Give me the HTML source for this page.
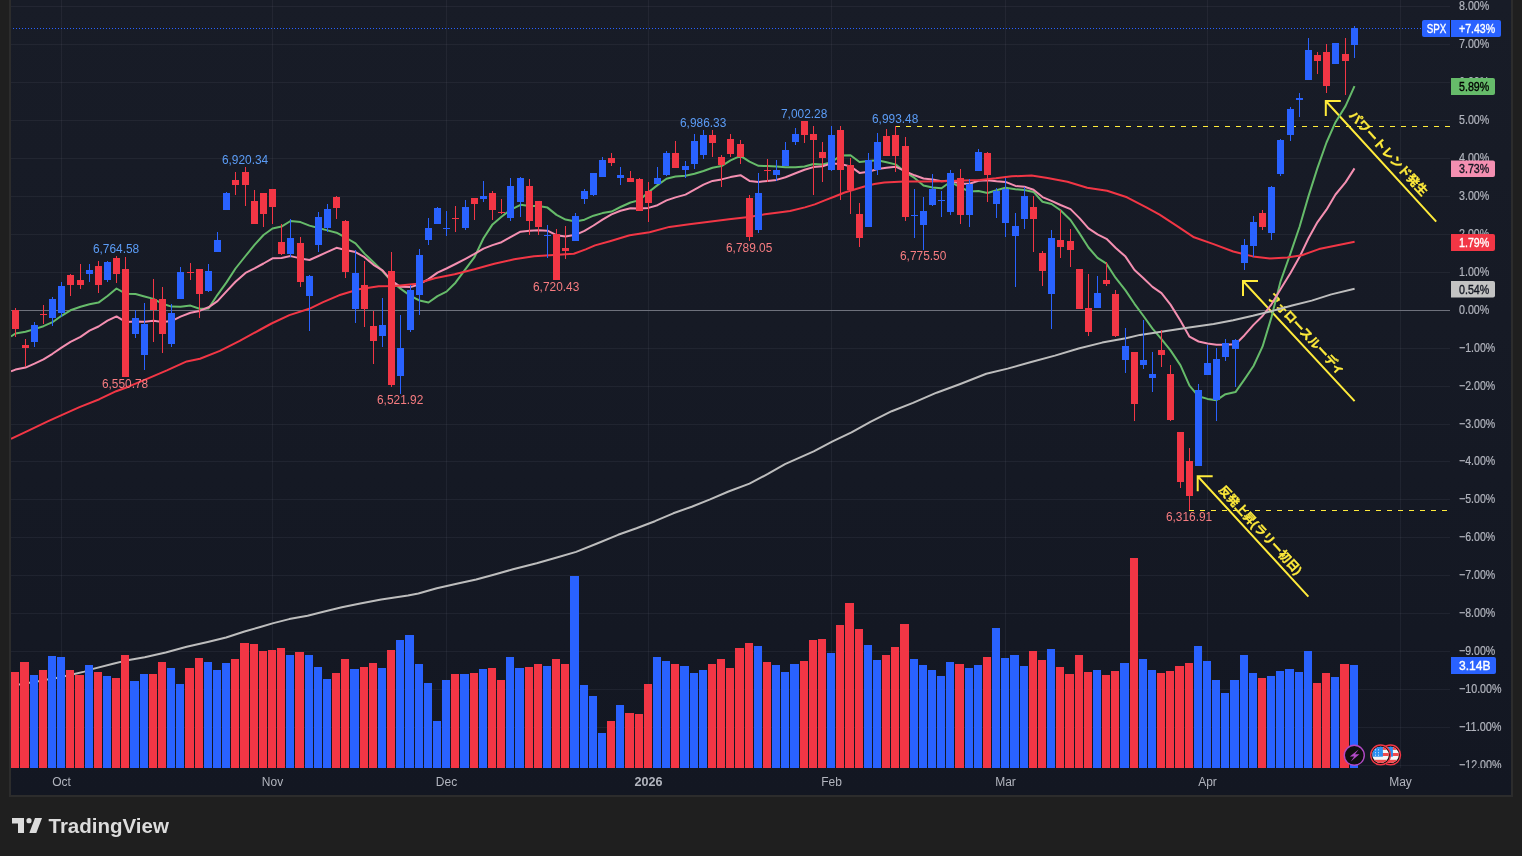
<!DOCTYPE html>
<html><head><meta charset="utf-8"><title>SPX chart</title>
<style>html,body{margin:0;padding:0;background:#1f1f1f;width:1522px;height:856px;overflow:hidden;position:relative}</style>
</head><body>
<svg width="1522" height="856" viewBox="0 0 1522 856" style="position:absolute;left:0;top:0">
<defs><linearGradient id="bg" x1="0" y1="0" x2="0" y2="1"><stop offset="0" stop-color="#181c27"/><stop offset="1" stop-color="#131722"/></linearGradient>
<clipPath id="plot"><rect x="11" y="0" width="1439" height="768"/></clipPath>
<clipPath id="pax"><rect x="1450" y="0" width="61" height="768"/></clipPath>
</defs>
<rect x="0" y="0" width="1522" height="856" fill="#1f1f1f"/>
<rect x="9" y="0" width="1504" height="797" fill="#2c2c2c"/>
<rect x="11" y="0" width="1500" height="795" fill="url(#bg)"/>
<path d="M11 6.5H1450M11 44.5H1450M11 82.5H1450M11 120.5H1450M11 158.5H1450M11 196.5H1450M11 234.5H1450M11 272.5H1450M11 348.5H1450M11 386.5H1450M11 424.5H1450M11 461.5H1450M11 499.5H1450M11 537.5H1450M11 575.5H1450M11 613.5H1450M11 651.5H1450M11 689.5H1450M11 727.5H1450M11 765.5H1450M61.5 0V768M272.5 0V768M446.5 0V768M648.5 0V768M831.5 0V768M1005.5 0V768M1207.5 0V768M1400.5 0V768" stroke="rgba(128,126,150,0.11)" stroke-width="1" fill="none"/>
<path d="M11 310.5H1450" stroke="#6e717c" stroke-width="1"/>
<g clip-path="url(#plot)">
<path d="M13 28.5H1422" stroke="#2962ff" stroke-width="1" stroke-dasharray="1 2"/>
<path d="M895 126.5H1450" stroke="#ffeb3b" stroke-width="1" stroke-dasharray="5 6"/>
<path d="M1189 510.5H1450" stroke="#ffeb3b" stroke-width="1" stroke-dasharray="5 6"/>
<path d="M1197.7 476.2L1308.4 596.6M1212.7 476.2L1197.7 476.2L1197.7 491.2" stroke="#ffeb3b" stroke-width="2" fill="none" stroke-linecap="butt" stroke-linejoin="miter"/>
<text transform="translate(1197.7 476.2) rotate(47.40)" x="24.0" y="-5.5" fill="#ffeb3b" stroke="#ffeb3b" stroke-width="0.3" font-size="12.0" font-weight="bold" font-family="Liberation Sans, Noto Sans CJK JP, sans-serif">反発上昇(ラリー初日)</text>
<path d="M1243.0 281.0L1354.6 401.1M1258.0 281.0L1243.0 281.0L1243.0 296.0" stroke="#ffeb3b" stroke-width="2" fill="none" stroke-linecap="butt" stroke-linejoin="miter"/>
<text transform="translate(1243.0 281.0) rotate(47.10)" x="28.5" y="-6.0" fill="#ffeb3b" stroke="#ffeb3b" stroke-width="0.3" font-size="12.0" font-weight="bold" font-family="Liberation Sans, Noto Sans CJK JP, sans-serif">フォロースルーディ</text>
<path d="M1325.8 101.0L1436.2 221.6M1340.8 101.0L1325.8 101.0L1325.8 116.0" stroke="#ffeb3b" stroke-width="2" fill="none" stroke-linecap="butt" stroke-linejoin="miter"/>
<text transform="translate(1325.8 101.0) rotate(47.53)" x="26.0" y="-6.5" fill="#ffeb3b" stroke="#ffeb3b" stroke-width="0.3" font-size="12.2" font-weight="bold" font-family="Liberation Sans, Noto Sans CJK JP, sans-serif">パワートレンド発生</text>
<path d="M11.0 336.5 L15.5 333.5 L25.5 331.8 L34.5 329.1 L43.5 326.2 L52.5 322.2 L61.5 315.8 L70.5 310.3 L80.5 306.8 L89.5 304.2 L98.5 302.6 L107.5 296.0 L116.5 288.5 L125.5 293.7 L135.5 294.0 L144.5 296.5 L153.5 298.9 L162.5 303.8 L171.5 306.6 L180.5 306.8 L190.5 305.6 L199.5 308.8 L208.5 308.5 L217.5 294.8 L226.5 282.4 L235.5 268.5 L245.5 256.0 L254.5 244.9 L263.5 235.0 L272.5 228.5 L281.5 226.6 L290.5 221.0 L300.5 222.1 L309.5 225.6 L318.5 228.0 L327.5 230.4 L336.5 232.7 L345.5 237.5 L355.5 243.4 L364.5 253.6 L373.5 262.3 L382.5 271.0 L391.5 281.4 L400.5 288.6 L410.5 295.9 L419.5 300.5 L428.5 302.5 L437.5 296.1 L446.5 291.6 L455.5 282.7 L465.5 269.2 L474.5 257.1 L483.5 238.2 L492.5 224.4 L501.5 216.8 L510.5 209.9 L520.5 204.8 L529.5 206.1 L538.5 206.0 L547.5 207.6 L556.5 214.9 L565.5 219.6 L575.5 221.6 L584.5 219.7 L593.5 215.7 L602.5 213.1 L611.5 211.6 L620.5 207.0 L630.5 202.5 L639.5 200.1 L648.5 192.3 L657.5 185.1 L666.5 178.8 L675.5 176.5 L685.5 175.7 L694.5 173.8 L703.5 171.0 L712.5 167.8 L721.5 166.1 L730.5 160.4 L740.5 155.8 L749.5 161.7 L758.5 165.8 L767.5 166.0 L776.5 166.4 L785.5 167.3 L795.5 167.3 L804.5 166.5 L813.5 164.0 L822.5 164.5 L831.5 162.3 L840.5 155.5 L850.5 155.2 L859.5 162.0 L868.5 161.0 L877.5 160.2 L886.5 162.3 L895.5 164.4 L905.5 172.2 L914.5 177.9 L923.5 185.4 L932.5 187.4 L941.5 188.3 L950.5 181.8 L960.5 187.3 L969.5 191.5 L978.5 191.1 L987.5 193.0 L996.5 190.3 L1005.5 187.7 L1015.5 189.2 L1024.5 189.9 L1033.5 191.9 L1042.5 201.7 L1051.5 204.0 L1060.5 210.2 L1070.5 220.0 L1079.5 233.4 L1088.5 247.5 L1097.5 257.9 L1106.5 263.7 L1115.5 277.7 L1125.5 290.4 L1134.5 303.8 L1143.5 316.0 L1152.5 328.7 L1161.5 339.2 L1170.5 350.4 L1180.5 365.4 L1189.5 385.7 L1198.5 396.3 L1207.5 398.9 L1216.5 400.2 L1225.5 394.2 L1235.5 392.1 L1244.5 379.3 L1253.5 366.0 L1262.5 346.7 L1271.5 317.1 L1280.5 281.5 L1290.5 253.4 L1299.5 227.0 L1308.5 196.1 L1317.5 167.9 L1326.5 142.5 L1335.5 122.2 L1345.5 106.1 L1354.5 86.2" stroke="#66bb6a" stroke-width="2" fill="none" stroke-linejoin="round" stroke-linecap="butt"/>
<path d="M11.0 371.4 L15.5 369.6 L25.5 367.6 L34.5 363.7 L43.5 359.3 L52.5 353.8 L61.5 347.6 L70.5 341.9 L80.5 336.8 L89.5 330.7 L98.5 326.5 L107.5 320.7 L116.5 316.4 L125.5 321.9 L135.5 321.5 L144.5 321.7 L153.5 320.7 L162.5 321.9 L171.5 321.1 L180.5 316.6 L190.5 312.7 L199.5 310.9 L208.5 307.3 L217.5 301.2 L226.5 291.3 L235.5 281.7 L245.5 272.9 L254.5 268.4 L263.5 263.5 L272.5 258.3 L281.5 257.9 L290.5 256.1 L300.5 258.4 L309.5 260.0 L318.5 256.0 L327.5 251.8 L336.5 247.8 L345.5 250.0 L355.5 252.1 L364.5 257.2 L373.5 264.8 L382.5 270.3 L391.5 280.7 L400.5 286.8 L410.5 287.1 L419.5 284.2 L428.5 279.1 L437.5 272.6 L446.5 268.5 L455.5 264.0 L465.5 258.8 L474.5 253.9 L483.5 248.6 L492.5 245.1 L501.5 242.2 L510.5 237.1 L520.5 231.7 L529.5 230.7 L538.5 230.3 L547.5 230.7 L556.5 235.2 L565.5 236.6 L575.5 234.8 L584.5 230.8 L593.5 225.5 L602.5 219.6 L611.5 214.4 L620.5 210.8 L630.5 208.2 L639.5 208.4 L648.5 207.9 L657.5 205.2 L666.5 200.4 L675.5 197.4 L685.5 194.6 L694.5 189.7 L703.5 184.7 L712.5 180.9 L721.5 179.4 L730.5 177.1 L740.5 175.2 L749.5 180.9 L758.5 182.0 L767.5 180.9 L776.5 179.9 L785.5 177.2 L795.5 173.3 L804.5 169.8 L813.5 167.1 L822.5 166.3 L831.5 163.4 L840.5 164.0 L850.5 166.4 L859.5 172.9 L868.5 171.7 L877.5 169.0 L886.5 167.8 L895.5 166.7 L905.5 171.3 L914.5 175.3 L923.5 178.5 L932.5 179.5 L941.5 181.3 L950.5 180.5 L960.5 183.7 L969.5 183.7 L978.5 180.8 L987.5 180.2 L996.5 181.2 L1005.5 181.9 L1015.5 185.9 L1024.5 186.8 L1033.5 189.7 L1042.5 197.1 L1051.5 200.8 L1060.5 205.0 L1070.5 209.1 L1079.5 218.1 L1088.5 228.4 L1097.5 234.3 L1106.5 238.8 L1115.5 247.7 L1125.5 256.6 L1134.5 270.0 L1143.5 278.2 L1152.5 286.9 L1161.5 293.1 L1170.5 304.6 L1180.5 320.8 L1189.5 336.7 L1198.5 341.5 L1207.5 343.4 L1216.5 344.8 L1225.5 344.7 L1235.5 344.2 L1244.5 335.2 L1253.5 324.9 L1262.5 316.0 L1271.5 304.3 L1280.5 289.3 L1290.5 272.9 L1299.5 257.1 L1308.5 238.3 L1317.5 222.1 L1326.5 209.7 L1335.5 194.5 L1345.5 182.4 L1354.5 168.4" stroke="#f48fb1" stroke-width="2" fill="none" stroke-linejoin="round" stroke-linecap="butt"/>
<path d="M11.0 438.9 L27.9 430.9 L47.7 421.4 L61.6 415.1 L79.5 407.1 L99.4 399.2 L116.2 391.2 L127.2 387.2 L147.0 378.9 L166.9 370.4 L186.7 361.4 L200.0 358.8 L219.9 350.9 L239.7 340.9 L259.6 330.0 L271.5 323.5 L289.4 315.1 L309.2 308.8 L323.1 302.2 L339.0 295.3 L358.9 289.3 L378.7 286.3 L395.0 286.1 L414.9 284.1 L434.7 278.2 L454.6 274.2 L474.4 269.2 L494.3 263.7 L514.2 259.3 L534.0 256.3 L553.9 254.9 L573.8 253.7 L585.7 249.4 L595.0 245.4 L609.9 241.2 L629.7 235.2 L649.6 232.2 L669.4 226.9 L689.3 224.3 L709.2 221.7 L729.0 219.3 L748.9 216.9 L764.8 214.3 L778.7 212.4 L790.0 211.0 L804.9 207.4 L814.8 204.4 L824.7 200.4 L834.7 196.5 L844.6 192.5 L854.5 189.5 L864.4 186.5 L874.4 184.0 L884.3 182.6 L894.2 182.0 L904.2 181.6 L924.0 181.6 L943.9 181.2 L963.7 180.6 L980.0 179.9 L995.9 178.3 L1011.8 176.3 L1031.6 175.5 L1047.5 177.9 L1067.4 181.8 L1087.2 187.8 L1107.1 190.8 L1127.0 197.3 L1146.8 207.7 L1159.6 214.7 L1176.8 225.8 L1194.0 237.3 L1213.6 244.1 L1233.2 251.5 L1252.8 256.4 L1270.0 258.4 L1287.2 257.6 L1301.9 255.2 L1319.0 249.1 L1336.2 245.4 L1354.6 241.7" stroke="#f23645" stroke-width="2" fill="none" stroke-linejoin="round" stroke-linecap="butt"/>
<path d="M11.0 686.0 L19.2 684.5 L29.4 682.8 L38.5 681.2 L47.4 679.6 L56.4 677.9 L65.5 675.9 L74.3 674.0 L84.4 671.6 L92.1 669.1 L113.1 663.8 L128.9 659.9 L144.7 657.2 L165.7 652.5 L186.7 646.7 L207.7 642.0 L226.1 637.5 L244.5 631.5 L260.3 627.0 L273.4 623.1 L289.2 619.1 L307.6 615.7 L323.4 611.8 L341.8 607.3 L360.2 603.4 L381.2 599.4 L408.0 595.5 L418.4 593.5 L436.8 588.2 L457.8 583.5 L476.2 579.5 L494.6 574.5 L513.0 569.3 L536.7 563.2 L557.7 557.2 L576.1 551.9 L597.1 543.5 L618.1 534.8 L636.5 528.3 L654.9 521.2 L673.3 513.3 L691.7 506.7 L710.1 499.4 L728.5 491.5 L749.5 483.6 L767.9 473.9 L785.0 464.2 L813.7 451.4 L832.6 441.4 L851.5 432.4 L870.4 421.8 L891.7 411.2 L913.0 402.9 L936.6 392.7 L960.3 384.0 L986.3 373.8 L1007.6 368.6 L1031.2 362.0 L1054.9 355.6 L1078.6 348.5 L1102.2 342.6 L1125.9 338.3 L1140.0 334.9 L1164.5 331.2 L1189.1 327.5 L1213.6 323.9 L1233.2 320.2 L1252.8 315.8 L1272.5 310.9 L1292.1 305.5 L1311.7 300.6 L1331.3 294.4 L1354.6 288.8" stroke="#bdbdbd" stroke-width="2" fill="none" stroke-linejoin="round" stroke-linecap="butt"/>
<path d="M11 672H19V768H11ZM20 662H29V768H20ZM39 670H47V768H39ZM66 670H74V768H66ZM75 675H84V768H75ZM94 672H102V768H94ZM112 678H120V768H112ZM121 655H129V768H121ZM149 674H157V768H149ZM158 662H166V768H158ZM185 668H194V768H185ZM195 658H203V768H195ZM231 659H239V768H231ZM240 643H249V768H240ZM250 644H258V768H250ZM259 651H267V768H259ZM268 650H276V768H268ZM277 648H285V768H277ZM295 652H304V768H295ZM332 673H340V768H332ZM341 659H349V768H341ZM360 667H368V768H360ZM369 663H377V768H369ZM387 650H395V768H387ZM451 674H459V768H451ZM470 673H478V768H470ZM488 668H496V768H488ZM497 680H505V768H497ZM525 667H533V768H525ZM534 664H542V768H534ZM552 659H560V768H552ZM561 664H569V768H561ZM607 721H615V768H607ZM625 713H634V768H625ZM635 714H643V768H635ZM644 684H652V768H644ZM671 664H679V768H671ZM708 664H716V768H708ZM717 659H725V768H717ZM726 668H734V768H726ZM735 648H744V768H735ZM745 643H753V768H745ZM763 662H771V768H763ZM800 661H808V768H800ZM809 640H817V768H809ZM818 639H826V768H818ZM836 625H844V768H836ZM845 603H854V768H845ZM855 629H863V768H855ZM882 655H890V768H882ZM891 647H899V768H891ZM900 624H909V768H900ZM955 664H964V768H955ZM983 657H991V768H983ZM1029 651H1037V768H1029ZM1038 660H1046V768H1038ZM1056 667H1064V768H1056ZM1065 674H1074V768H1065ZM1075 655H1083V768H1075ZM1084 672H1092V768H1084ZM1102 675H1110V768H1102ZM1111 671H1119V768H1111ZM1130 558H1138V768H1130ZM1157 673H1165V768H1157ZM1166 671H1174V768H1166ZM1175 666H1184V768H1175ZM1185 663H1193V768H1185ZM1258 678H1266V768H1258ZM1313 683H1321V768H1313ZM1322 673H1330V768H1322ZM1340 664H1349V768H1340Z" fill="#f23645"/>
<path d="M30 675H38V768H30ZM48 656H56V768H48ZM57 657H65V768H57ZM85 665H93V768H85ZM103 676H111V768H103ZM130 681H139V768H130ZM140 674H148V768H140ZM167 668H175V768H167ZM176 684H184V768H176ZM204 662H212V768H204ZM213 670H221V768H213ZM222 663H230V768H222ZM286 655H294V768H286ZM305 655H313V768H305ZM314 667H322V768H314ZM323 679H331V768H323ZM350 669H359V768H350ZM378 668H386V768H378ZM396 640H404V768H396ZM405 635H414V768H405ZM415 664H423V768H415ZM424 683H432V768H424ZM433 721H441V768H433ZM442 680H450V768H442ZM460 674H469V768H460ZM479 669H487V768H479ZM506 657H514V768H506ZM515 668H524V768H515ZM543 666H551V768H543ZM570 576H579V768H570ZM580 685H588V768H580ZM589 696H597V768H589ZM598 733H606V768H598ZM616 705H624V768H616ZM653 657H661V768H653ZM662 661H670V768H662ZM680 666H689V768H680ZM690 673H698V768H690ZM699 670H707V768H699ZM754 646H762V768H754ZM772 665H780V768H772ZM781 672H789V768H781ZM790 664H799V768H790ZM827 653H835V768H827ZM864 645H872V768H864ZM873 660H881V768H873ZM910 659H918V768H910ZM919 665H927V768H919ZM928 670H936V768H928ZM937 676H945V768H937ZM946 662H954V768H946ZM965 668H973V768H965ZM974 665H982V768H974ZM992 628H1000V768H992ZM1001 658H1009V768H1001ZM1010 655H1019V768H1010ZM1020 666H1028V768H1020ZM1047 649H1055V768H1047ZM1093 670H1101V768H1093ZM1120 663H1129V768H1120ZM1139 659H1147V768H1139ZM1148 670H1156V768H1148ZM1194 646H1202V768H1194ZM1203 661H1211V768H1203ZM1212 680H1220V768H1212ZM1221 693H1229V768H1221ZM1230 680H1239V768H1230ZM1240 655H1248V768H1240ZM1249 673H1257V768H1249ZM1267 676H1275V768H1267ZM1276 671H1284V768H1276ZM1285 669H1294V768H1285ZM1295 672H1303V768H1295ZM1304 651H1312V768H1304ZM1331 677H1339V768H1331ZM1350 665H1358V768H1350Z" fill="#2962ff"/>
<path d="M12 310H19V329H12ZM15 308H16V310H15ZM15 329H16V337H15ZM22 345H29V348H22ZM25 339H26V345H25ZM25 348H26V367H25ZM40 314H47V315H40ZM43 305H44V314H43ZM43 315H44V324H43ZM67 275H74V285H67ZM70 274H71V275H70ZM70 285H71V296H70ZM77 280H84V285H77ZM80 264H81V280H80ZM80 285H81V289H80ZM95 266H102V285H95ZM98 261H99V266H98ZM98 285H99V293H98ZM113 258H120V274H113ZM116 256H117V258H116ZM116 274H117V283H116ZM122 269H129V377H122ZM125 257H126V269H125ZM150 299H157V310H150ZM153 279H154V299H153ZM153 310H154V342H153ZM159 299H166V334H159ZM162 287H163V299H162ZM162 334H163V353H162ZM187 272H194V273H187ZM190 263H191V272H190ZM190 273H191V280H190ZM196 269H203V294H196ZM199 294H200V318H199ZM232 180H239V185H232ZM235 172H236V180H235ZM235 185H236V195H235ZM242 172H249V185H242ZM245 167H246V172H245ZM245 185H246V206H245ZM251 201H258V224H251ZM254 190H255V201H254ZM260 193H267V214H260ZM263 214H264V227H263ZM269 189H276V207H269ZM272 207H273V224H272ZM278 242H285V254H278ZM281 224H282V242H281ZM281 254H282V255H281ZM297 243H304V282H297ZM300 237H301V243H300ZM300 282H301V287H300ZM333 197H340V208H333ZM336 196H337V197H336ZM336 208H337V219H336ZM342 221H349V272H342ZM345 220H346V221H345ZM345 272H346V278H345ZM361 285H368V309H361ZM364 261H365V285H364ZM364 309H365V327H364ZM370 326H377V341H370ZM373 311H374V326H373ZM373 341H374V364H373ZM388 271H395V385H388ZM391 252H392V271H391ZM391 385H392V387H391ZM452 218H459V219H452ZM455 206H456V218H455ZM455 219H456V232H455ZM471 198H478V204H471ZM474 204H475V220H474ZM489 193H496V210H489ZM492 191H493V193H492ZM492 210H493V220H492ZM498 212H505V213H498ZM501 199H502V212H501ZM501 213H502V214H501ZM526 186H533V221H526ZM529 179H530V186H529ZM529 221H530V235H529ZM535 201H542V227H535ZM538 227H539V235H538ZM553 234H560V280H553ZM556 229H557V234H556ZM562 248H569V251H562ZM565 226H566V248H565ZM565 251H566V259H565ZM608 158H615V163H608ZM611 153H612V158H611ZM611 163H612V166H611ZM627 178H634V182H627ZM630 171H631V178H630ZM636 179H643V211H636ZM639 178H640V179H639ZM645 191H652V203H645ZM648 182H649V191H648ZM648 203H649V222H648ZM672 153H679V168H672ZM675 141H676V153H675ZM709 135H716V143H709ZM712 130H713V135H712ZM712 143H713V157H712ZM718 157H725V165H718ZM721 155H722V157H721ZM721 165H722V187H721ZM727 139H734V154H727ZM730 134H731V139H730ZM730 154H731V157H730ZM737 144H744V157H737ZM740 140H741V144H740ZM740 157H741V164H740ZM746 198H753V237H746ZM749 195H750V198H749ZM749 237H750V241H749ZM764 170H771V171H764ZM767 159H768V170H767ZM767 171H768V182H767ZM801 121H808V135H801ZM804 135H805V143H804ZM810 134H817V140H810ZM813 126H814V134H813ZM813 140H814V195H813ZM819 152H826V158H819ZM822 142H823V152H822ZM822 158H823V182H822ZM837 130H844V170H837ZM840 126H841V130H840ZM840 170H841V200H840ZM847 165H854V190H847ZM850 158H851V165H850ZM850 190H851V214H850ZM856 214H863V238H856ZM859 203H860V214H859ZM859 238H860V247H859ZM883 136H890V156H883ZM886 129H887V136H886ZM892 135H899V156H892ZM895 126H896V135H895ZM895 156H896V172H895ZM902 146H909V217H902ZM905 137H906V146H905ZM905 217H906V221H905ZM957 178H964V215H957ZM960 169H961V178H960ZM960 215H961V224H960ZM984 153H991V175H984ZM987 152H988V153H987ZM987 175H988V202H987ZM1030 207H1037V219H1030ZM1033 196H1034V207H1033ZM1033 219H1034V252H1033ZM1039 253H1046V271H1039ZM1042 251H1043V253H1042ZM1042 271H1043V286H1042ZM1057 240H1064V247H1057ZM1060 210H1061V240H1060ZM1060 247H1061V258H1060ZM1067 241H1074V250H1067ZM1070 229H1071V241H1070ZM1070 250H1071V267H1070ZM1076 269H1083V309H1076ZM1085 308H1092V332H1085ZM1088 274H1089V308H1088ZM1088 332H1089V336H1088ZM1103 280H1110V284H1103ZM1106 262H1107V280H1106ZM1106 284H1107V286H1106ZM1112 294H1119V336H1112ZM1115 290H1116V294H1115ZM1115 336H1116V337H1115ZM1131 352H1138V404H1131ZM1134 404H1135V421H1134ZM1158 350H1165V355H1158ZM1161 330H1162V350H1161ZM1161 355H1162V367H1161ZM1167 374H1174V420H1167ZM1170 365H1171V374H1170ZM1170 420H1171V421H1170ZM1177 432H1184V482H1177ZM1180 482H1181V488H1180ZM1186 461H1193V496H1186ZM1189 448H1190V461H1189ZM1189 496H1190V510H1189ZM1259 213H1266V227H1259ZM1262 210H1263V213H1262ZM1262 227H1263V230H1262ZM1314 55H1321V61H1314ZM1317 52H1318V55H1317ZM1317 61H1318V74H1317ZM1323 52H1330V86H1323ZM1326 44H1327V52H1326ZM1326 86H1327V93H1326ZM1342 54H1349V61H1342ZM1345 38H1346V54H1345ZM1345 61H1346V95H1345Z" fill="#f23645"/>
<path d="M31 325H38V342H31ZM34 322H35V325H34ZM34 342H35V347H34ZM49 299H56V318H49ZM52 297H53V299H52ZM52 318H53V326H52ZM58 286H65V313H58ZM61 282H62V286H61ZM61 313H62V317H61ZM86 270H93V274H86ZM89 264H90V270H89ZM89 274H90V282H89ZM104 262H111V280H104ZM107 261H108V262H107ZM107 280H108V282H107ZM132 318H139V334H132ZM135 310H136V318H135ZM135 334H136V338H135ZM141 324H148V355H141ZM144 303H145V324H144ZM144 355H145V370H144ZM168 313H175V344H168ZM171 304H172V313H171ZM171 344H172V347H171ZM177 272H184V299H177ZM180 267H181V272H180ZM205 271H212V291H205ZM208 264H209V271H208ZM208 291H209V292H208ZM214 240H221V252H214ZM217 232H218V240H217ZM223 193H230V210H223ZM226 192H227V193H226ZM287 238H294V254H287ZM290 219H291V238H290ZM290 254H291V257H290ZM306 276H313V296H306ZM309 275H310V276H309ZM309 296H310V331H309ZM315 217H322V245H315ZM318 212H319V217H318ZM318 245H319V252H318ZM324 209H331V228H324ZM327 204H328V209H327ZM327 228H328V232H327ZM352 273H359V309H352ZM355 250H356V273H355ZM355 309H356V323H355ZM379 325H386V336H379ZM382 298H383V325H382ZM382 336H383V347H382ZM397 348H404V376H397ZM400 315H401V348H400ZM400 376H401V394H400ZM407 290H414V330H407ZM410 285H411V290H410ZM410 330H411V332H410ZM416 255H423V295H416ZM419 249H420V255H419ZM419 295H420V315H419ZM425 228H432V240H425ZM428 218H429V228H428ZM428 240H429V245H428ZM434 208H441V224H434ZM437 207H438V208H437ZM443 228H450V229H443ZM446 211H447V228H446ZM446 229H447V236H446ZM462 207H469V228H462ZM465 200H466V207H465ZM465 228H466V230H465ZM480 196H487V199H480ZM483 181H484V196H483ZM483 199H484V202H483ZM507 186H514V218H507ZM510 178H511V186H510ZM510 218H511V221H510ZM517 178H524V202H517ZM520 177H521V178H520ZM520 202H521V217H520ZM544 235H551V236H544ZM547 225H548V235H547ZM547 236H548V258H547ZM572 216H579V241H572ZM575 213H576V216H575ZM581 191H588V199H581ZM584 189H585V191H584ZM584 199H585V204H584ZM590 173H597V195H590ZM593 195H594V196H593ZM599 160H606V177H599ZM602 157H603V160H602ZM617 175H624V178H617ZM620 167H621V175H620ZM620 178H621V185H620ZM654 178H661V184H654ZM657 167H658V178H657ZM663 153H670V175H663ZM666 151H667V153H666ZM666 175H667V176H666ZM682 166H689V170H682ZM685 161H686V166H685ZM685 170H686V178H685ZM691 141H698V164H691ZM694 134H695V141H694ZM694 164H695V169H694ZM700 135H707V155H700ZM703 130H704V135H703ZM703 155H704V159H703ZM755 193H762V230H755ZM758 173H759V193H758ZM758 230H759V233H758ZM773 170H780V175H773ZM776 160H777V170H776ZM776 175H777V181H776ZM782 150H789V166H782ZM785 142H786V150H785ZM792 134H799V142H792ZM795 128H796V134H795ZM795 142H796V145H795ZM828 135H835V170H828ZM831 126H832V135H831ZM831 170H832V171H831ZM865 160H872V227H865ZM868 153H869V160H868ZM874 142H881V170H874ZM877 133H878V142H877ZM877 170H878V175H877ZM911 215H918V216H911ZM914 189H915V215H914ZM914 216H915V238H914ZM920 211H927V225H920ZM923 197H924V211H923ZM923 225H924V250H923ZM929 189H936V205H929ZM932 174H933V189H932ZM932 205H933V206H932ZM938 200H945V201H938ZM941 191H942V200H941ZM941 201H942V217H941ZM947 173H954V212H947ZM950 170H951V173H950ZM950 212H951V215H950ZM966 184H973V215H966ZM969 179H970V184H969ZM969 215H970V227H969ZM975 152H982V171H975ZM978 149H979V152H978ZM993 191H1000V204H993ZM996 188H997V191H996ZM996 204H997V218H996ZM1002 189H1009V223H1002ZM1005 178H1006V189H1005ZM1005 223H1006V237H1005ZM1012 226H1019V236H1012ZM1015 213H1016V226H1015ZM1015 236H1016V287H1015ZM1021 196H1028V219H1021ZM1024 187H1025V196H1024ZM1024 219H1025V229H1024ZM1048 238H1055V294H1048ZM1051 230H1052V238H1051ZM1051 294H1052V329H1051ZM1094 293H1101V308H1094ZM1097 276H1098V293H1097ZM1122 346H1129V360H1122ZM1125 328H1126V346H1125ZM1125 360H1126V373H1125ZM1140 360H1147V365H1140ZM1143 320H1144V360H1143ZM1143 365H1144V369H1143ZM1149 374H1156V378H1149ZM1152 352H1153V374H1152ZM1152 378H1153V392H1152ZM1195 390H1202V466H1195ZM1198 384H1199V390H1198ZM1204 363H1211V375H1204ZM1207 345H1208V363H1207ZM1213 359H1220V400H1213ZM1216 348H1217V359H1216ZM1216 400H1217V421H1216ZM1222 343H1229V357H1222ZM1225 339H1226V343H1225ZM1225 357H1226V361H1225ZM1232 340H1239V349H1232ZM1235 339H1236V340H1235ZM1235 349H1236V387H1235ZM1241 245H1248V263H1241ZM1244 239H1245V245H1244ZM1244 263H1245V270H1244ZM1250 222H1257V246H1250ZM1253 216H1254V222H1253ZM1253 246H1254V257H1253ZM1268 187H1275V233H1268ZM1271 186H1272V187H1271ZM1271 233H1272V240H1271ZM1277 140H1284V174H1277ZM1280 139H1281V140H1280ZM1280 174H1281V176H1280ZM1287 109H1294V135H1287ZM1290 107H1291V109H1290ZM1290 135H1291V141H1290ZM1296 98H1303V100H1296ZM1299 93H1300V98H1299ZM1299 100H1300V117H1299ZM1305 50H1312V80H1305ZM1308 38H1309V50H1308ZM1332 43H1339V64H1332ZM1351 28H1358V45H1351ZM1354 26H1355V28H1354ZM1354 45H1355V58H1354Z" fill="#2962ff"/>
</g>
<text x="92.9" y="252.8" fill="#5b9cf6" font-size="12.5" textLength="46.3" lengthAdjust="spacingAndGlyphs" font-family="Liberation Sans, sans-serif">6,764.58</text>
<text x="101.9" y="387.5" fill="#f77c80" font-size="12.5" textLength="46.3" lengthAdjust="spacingAndGlyphs" font-family="Liberation Sans, sans-serif">6,550.78</text>
<text x="221.9" y="163.9" fill="#5b9cf6" font-size="12.5" textLength="46.3" lengthAdjust="spacingAndGlyphs" font-family="Liberation Sans, sans-serif">6,920.34</text>
<text x="377.0" y="404.4" fill="#f77c80" font-size="12.5" textLength="46.3" lengthAdjust="spacingAndGlyphs" font-family="Liberation Sans, sans-serif">6,521.92</text>
<text x="533.0" y="290.9" fill="#f77c80" font-size="12.5" textLength="46.3" lengthAdjust="spacingAndGlyphs" font-family="Liberation Sans, sans-serif">6,720.43</text>
<text x="680.0" y="126.9" fill="#5b9cf6" font-size="12.5" textLength="46.3" lengthAdjust="spacingAndGlyphs" font-family="Liberation Sans, sans-serif">6,986.33</text>
<text x="726.0" y="251.6" fill="#f77c80" font-size="12.5" textLength="46.3" lengthAdjust="spacingAndGlyphs" font-family="Liberation Sans, sans-serif">6,789.05</text>
<text x="781.0" y="117.8" fill="#5b9cf6" font-size="12.5" textLength="46.3" lengthAdjust="spacingAndGlyphs" font-family="Liberation Sans, sans-serif">7,002.28</text>
<text x="872.0" y="123.1" fill="#5b9cf6" font-size="12.5" textLength="46.3" lengthAdjust="spacingAndGlyphs" font-family="Liberation Sans, sans-serif">6,993.48</text>
<text x="900.0" y="260.2" fill="#f77c80" font-size="12.5" textLength="46.3" lengthAdjust="spacingAndGlyphs" font-family="Liberation Sans, sans-serif">6,775.50</text>
<text x="1165.9" y="520.6" fill="#f77c80" font-size="12.5" textLength="46.3" lengthAdjust="spacingAndGlyphs" font-family="Liberation Sans, sans-serif">6,316.91</text>
<g clip-path="url(#pax)">
<text x="1459" y="10.4" fill="#b2b5be" stroke="#b2b5be" stroke-width="0.2" font-size="12.5" textLength="30.3" lengthAdjust="spacingAndGlyphs" font-family="Liberation Sans, sans-serif">8.00%</text>
<text x="1459" y="48.4" fill="#b2b5be" stroke="#b2b5be" stroke-width="0.2" font-size="12.5" textLength="30.3" lengthAdjust="spacingAndGlyphs" font-family="Liberation Sans, sans-serif">7.00%</text>
<text x="1459" y="86.4" fill="#b2b5be" stroke="#b2b5be" stroke-width="0.2" font-size="12.5" textLength="30.3" lengthAdjust="spacingAndGlyphs" font-family="Liberation Sans, sans-serif">6.00%</text>
<text x="1459" y="124.4" fill="#b2b5be" stroke="#b2b5be" stroke-width="0.2" font-size="12.5" textLength="30.3" lengthAdjust="spacingAndGlyphs" font-family="Liberation Sans, sans-serif">5.00%</text>
<text x="1459" y="162.4" fill="#b2b5be" stroke="#b2b5be" stroke-width="0.2" font-size="12.5" textLength="30.3" lengthAdjust="spacingAndGlyphs" font-family="Liberation Sans, sans-serif">4.00%</text>
<text x="1459" y="200.4" fill="#b2b5be" stroke="#b2b5be" stroke-width="0.2" font-size="12.5" textLength="30.3" lengthAdjust="spacingAndGlyphs" font-family="Liberation Sans, sans-serif">3.00%</text>
<text x="1459" y="238.4" fill="#b2b5be" stroke="#b2b5be" stroke-width="0.2" font-size="12.5" textLength="30.3" lengthAdjust="spacingAndGlyphs" font-family="Liberation Sans, sans-serif">2.00%</text>
<text x="1459" y="276.4" fill="#b2b5be" stroke="#b2b5be" stroke-width="0.2" font-size="12.5" textLength="30.3" lengthAdjust="spacingAndGlyphs" font-family="Liberation Sans, sans-serif">1.00%</text>
<text x="1459" y="314.4" fill="#b2b5be" stroke="#b2b5be" stroke-width="0.2" font-size="12.5" textLength="30.3" lengthAdjust="spacingAndGlyphs" font-family="Liberation Sans, sans-serif">0.00%</text>
<text x="1459" y="352.4" fill="#b2b5be" stroke="#b2b5be" stroke-width="0.2" font-size="12.5" textLength="36.2" lengthAdjust="spacingAndGlyphs" font-family="Liberation Sans, sans-serif">−1.00%</text>
<text x="1459" y="390.4" fill="#b2b5be" stroke="#b2b5be" stroke-width="0.2" font-size="12.5" textLength="36.2" lengthAdjust="spacingAndGlyphs" font-family="Liberation Sans, sans-serif">−2.00%</text>
<text x="1459" y="428.4" fill="#b2b5be" stroke="#b2b5be" stroke-width="0.2" font-size="12.5" textLength="36.2" lengthAdjust="spacingAndGlyphs" font-family="Liberation Sans, sans-serif">−3.00%</text>
<text x="1459" y="465.4" fill="#b2b5be" stroke="#b2b5be" stroke-width="0.2" font-size="12.5" textLength="36.2" lengthAdjust="spacingAndGlyphs" font-family="Liberation Sans, sans-serif">−4.00%</text>
<text x="1459" y="503.4" fill="#b2b5be" stroke="#b2b5be" stroke-width="0.2" font-size="12.5" textLength="36.2" lengthAdjust="spacingAndGlyphs" font-family="Liberation Sans, sans-serif">−5.00%</text>
<text x="1459" y="541.4" fill="#b2b5be" stroke="#b2b5be" stroke-width="0.2" font-size="12.5" textLength="36.2" lengthAdjust="spacingAndGlyphs" font-family="Liberation Sans, sans-serif">−6.00%</text>
<text x="1459" y="579.4" fill="#b2b5be" stroke="#b2b5be" stroke-width="0.2" font-size="12.5" textLength="36.2" lengthAdjust="spacingAndGlyphs" font-family="Liberation Sans, sans-serif">−7.00%</text>
<text x="1459" y="617.4" fill="#b2b5be" stroke="#b2b5be" stroke-width="0.2" font-size="12.5" textLength="36.2" lengthAdjust="spacingAndGlyphs" font-family="Liberation Sans, sans-serif">−8.00%</text>
<text x="1459" y="655.4" fill="#b2b5be" stroke="#b2b5be" stroke-width="0.2" font-size="12.5" textLength="36.2" lengthAdjust="spacingAndGlyphs" font-family="Liberation Sans, sans-serif">−9.00%</text>
<text x="1459" y="693.4" fill="#b2b5be" stroke="#b2b5be" stroke-width="0.2" font-size="12.5" textLength="42.5" lengthAdjust="spacingAndGlyphs" font-family="Liberation Sans, sans-serif">−10.00%</text>
<text x="1459" y="731.4" fill="#b2b5be" stroke="#b2b5be" stroke-width="0.2" font-size="12.5" textLength="42.5" lengthAdjust="spacingAndGlyphs" font-family="Liberation Sans, sans-serif">−11.00%</text>
<text x="1459" y="769.4" fill="#b2b5be" stroke="#b2b5be" stroke-width="0.2" font-size="12.5" textLength="42.5" lengthAdjust="spacingAndGlyphs" font-family="Liberation Sans, sans-serif">−12.00%</text>
</g>
<rect x="1422" y="20" width="28" height="17" rx="2" fill="#2962ff"/>
<rect x="1448" y="20" width="2" height="17" fill="#2962ff"/>
<text x="1426.7" y="33" fill="#ffffff" stroke="#ffffff" stroke-width="0.35" font-size="12.5" textLength="19.6" lengthAdjust="spacingAndGlyphs" font-family="Liberation Sans, sans-serif">SPX</text>
<path d="M1451.0 20.0H1499.0a2 2 0 0 1 2 2V35.0a2 2 0 0 1 -2 2H1451.0Z" fill="#2962ff"/>
<text x="1459.0" y="32.9" fill="#ffffff" stroke="#ffffff" stroke-width="0.35" font-size="12.5" textLength="36.1" lengthAdjust="spacingAndGlyphs" font-family="Liberation Sans, sans-serif">+7.43%</text>
<path d="M1451.0 78.0H1493.0a2 2 0 0 1 2 2V93.0a2 2 0 0 1 -2 2H1451.0Z" fill="#66bb6a"/>
<text x="1459.0" y="90.9" fill="#000000" stroke="#000000" stroke-width="0.35" font-size="12.5" textLength="30.3" lengthAdjust="spacingAndGlyphs" font-family="Liberation Sans, sans-serif">5.89%</text>
<path d="M1451.0 160.5H1493.0a2 2 0 0 1 2 2V175.0a2 2 0 0 1 -2 2H1451.0Z" fill="#f48fb1"/>
<text x="1459.0" y="173.2" fill="#131722" stroke="#131722" stroke-width="0.35" font-size="12.5" textLength="30.3" lengthAdjust="spacingAndGlyphs" font-family="Liberation Sans, sans-serif">3.73%</text>
<path d="M1451.0 234.0H1493.0a2 2 0 0 1 2 2V249.0a2 2 0 0 1 -2 2H1451.0Z" fill="#f23645"/>
<text x="1459.0" y="246.9" fill="#ffffff" stroke="#ffffff" stroke-width="0.35" font-size="12.5" textLength="30.3" lengthAdjust="spacingAndGlyphs" font-family="Liberation Sans, sans-serif">1.79%</text>
<path d="M1451.0 281.0H1493.0a2 2 0 0 1 2 2V295.5a2 2 0 0 1 -2 2H1451.0Z" fill="#c3c3c3"/>
<text x="1459.0" y="293.6" fill="#131722" stroke="#131722" stroke-width="0.35" font-size="12.5" textLength="30.3" lengthAdjust="spacingAndGlyphs" font-family="Liberation Sans, sans-serif">0.54%</text>
<path d="M1451.0 657.0H1494.0a2 2 0 0 1 2 2V672.0a2 2 0 0 1 -2 2H1451.0Z" fill="#2962ff"/>
<text x="1459.0" y="669.9" fill="#ffffff" stroke="#ffffff" stroke-width="0.35" font-size="12.5" textLength="31.5" lengthAdjust="spacingAndGlyphs" font-family="Liberation Sans, sans-serif">3.14B</text>
<text x="61.5" y="786.3" fill="#b2b5be" font-size="12" text-anchor="middle" font-family="Liberation Sans, sans-serif">Oct</text>
<text x="272.5" y="786.3" fill="#b2b5be" font-size="12" text-anchor="middle" font-family="Liberation Sans, sans-serif">Nov</text>
<text x="446.5" y="786.3" fill="#b2b5be" font-size="12" text-anchor="middle" font-family="Liberation Sans, sans-serif">Dec</text>
<text x="634.5" y="786.3" fill="#b2b5be" font-size="12.5" font-weight="bold" textLength="28" lengthAdjust="spacingAndGlyphs" font-family="Liberation Sans, sans-serif">2026</text>
<text x="831.5" y="786.3" fill="#b2b5be" font-size="12" text-anchor="middle" font-family="Liberation Sans, sans-serif">Feb</text>
<text x="1005.5" y="786.3" fill="#b2b5be" font-size="12" text-anchor="middle" font-family="Liberation Sans, sans-serif">Mar</text>
<text x="1207.5" y="786.3" fill="#b2b5be" font-size="12" text-anchor="middle" font-family="Liberation Sans, sans-serif">Apr</text>
<text x="1400.5" y="786.3" fill="#b2b5be" font-size="12" text-anchor="middle" font-family="Liberation Sans, sans-serif">May</text>
<circle cx="1354.3" cy="755.3" r="10" fill="#0f0f10" stroke="#b249c6" stroke-width="1.4"/>
<path d="M1358.6 749.4L1349.8 756.4H1354.2L1350.8 761.4L1359.4 754.3H1355.0Z" fill="#b249c6"/>
<clipPath id="fc1390"><circle cx="1390.6" cy="754.9" r="8.2"/></clipPath>
<circle cx="1390.6" cy="754.9" r="9.9" fill="#0c0c0c" stroke="#f23645" stroke-width="1.4"/>
<g clip-path="url(#fc1390)"><rect x="1381.6" y="745.9" width="18" height="18" fill="#f5f5f5"/>
<rect x="1381.6" y="747.1" width="18" height="2.8" fill="#ef4b4f"/>
<rect x="1381.6" y="753.0" width="18" height="3.0" fill="#ef4b4f"/>
<rect x="1381.6" y="759.8" width="18" height="4.5" fill="#ef4b4f"/>
<rect x="1381.6" y="745.9" width="11.3" height="10.8" fill="#2a8ef0"/>
<rect x="1385.1" y="749.4" width="0.9" height="0.9" fill="#ffffff"/>
<rect x="1385.1" y="752.3" width="0.9" height="0.9" fill="#ffffff"/>
<rect x="1385.1" y="754.7" width="0.9" height="0.9" fill="#ffffff"/>
<rect x="1388.1" y="749.4" width="0.9" height="0.9" fill="#ffffff"/>
<rect x="1388.1" y="752.3" width="0.9" height="0.9" fill="#ffffff"/>
<rect x="1388.1" y="754.7" width="0.9" height="0.9" fill="#ffffff"/>
</g>
<clipPath id="fc1380"><circle cx="1380.6" cy="754.9" r="8.2"/></clipPath>
<circle cx="1380.6" cy="754.9" r="9.9" fill="#0c0c0c" stroke="#f23645" stroke-width="1.4"/>
<g clip-path="url(#fc1380)"><rect x="1371.6" y="745.9" width="18" height="18" fill="#f5f5f5"/>
<rect x="1371.6" y="747.1" width="18" height="2.8" fill="#ef4b4f"/>
<rect x="1371.6" y="753.0" width="18" height="3.0" fill="#ef4b4f"/>
<rect x="1371.6" y="759.8" width="18" height="4.5" fill="#ef4b4f"/>
<rect x="1371.6" y="745.9" width="11.3" height="10.8" fill="#2a8ef0"/>
<rect x="1375.1" y="749.4" width="0.9" height="0.9" fill="#ffffff"/>
<rect x="1375.1" y="752.3" width="0.9" height="0.9" fill="#ffffff"/>
<rect x="1375.1" y="754.7" width="0.9" height="0.9" fill="#ffffff"/>
<rect x="1378.1" y="749.4" width="0.9" height="0.9" fill="#ffffff"/>
<rect x="1378.1" y="752.3" width="0.9" height="0.9" fill="#ffffff"/>
<rect x="1378.1" y="754.7" width="0.9" height="0.9" fill="#ffffff"/>
</g>
<g fill="#dcdcdc">
<path d="M12 818H24V833H18V823.5H12Z"/>
<circle cx="29" cy="820.7" r="2.6"/>
<path d="M35 818H42L36.3 833H29.3Z"/>
<text x="48.5" y="833" font-size="20.5" font-weight="bold" font-family="Liberation Sans, sans-serif">TradingView</text>
</g>
</svg>
</body></html>
